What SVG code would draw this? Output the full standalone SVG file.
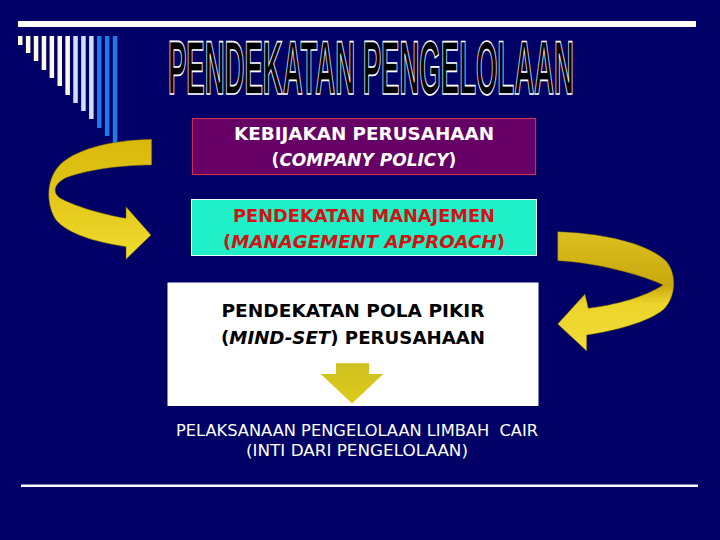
<svg xmlns="http://www.w3.org/2000/svg" width="720" height="540" viewBox="0 0 720 540">
<defs>
<linearGradient id="ribL" x1="0" y1="0" x2="0" y2="1">
<stop offset="0" stop-color="#d9b80c"/>
<stop offset="0.5" stop-color="#e3c81a"/>
<stop offset="1" stop-color="#f0dc30"/>
</linearGradient>
<linearGradient id="ribR" x1="0" y1="0" x2="0" y2="1">
<stop offset="0" stop-color="#dcc020"/>
<stop offset="0.45" stop-color="#c9a80c"/>
<stop offset="0.6" stop-color="#ecd42a"/>
<stop offset="1" stop-color="#f2de36"/>
</linearGradient>
<linearGradient id="down" x1="0" y1="0" x2="0" y2="1">
<stop offset="0" stop-color="#cfc020"/>
<stop offset="1" stop-color="#dccb18"/>
</linearGradient>
</defs>
<style>
.bold{font-family:"DejaVu Sans","Liberation Sans",sans-serif;font-weight:bold;font-size:17px;text-anchor:middle}
.ital{font-style:italic}
.plain{font-family:"DejaVu Sans","Liberation Sans",sans-serif;font-size:15px;fill:#ffffff;text-anchor:middle;white-space:pre}
.cream{fill:#fffbe0}
.lblue{fill:#cfe0fb}
.blue{fill:#1f7ae8}
.rib{stroke:#6a5800;stroke-width:0.8;stroke-opacity:0.6}
</style>
<rect width="720" height="540" fill="#000066"/>
<g id="decor">
<rect x="18" y="21" width="678" height="6" fill="#ffffff"/>
<rect x="21" y="484.5" width="677" height="2.5" fill="#ffffff"/>
<rect class="cream" x="18" y="36" width="4.5" height="9"/>
<rect class="cream" x="25.9" y="36" width="4.5" height="17"/>
<rect class="cream" x="33.8" y="36" width="4.5" height="25"/>
<rect class="cream" x="41.7" y="36" width="4.5" height="34"/>
<rect class="cream" x="49.6" y="36" width="4.5" height="42"/>
<rect class="cream" x="57.5" y="36" width="4.5" height="50"/>
<rect class="cream" x="65.4" y="36" width="4.5" height="59"/>
<rect class="lblue" x="73.3" y="36" width="4.5" height="67"/>
<rect class="lblue" x="81.2" y="36" width="4.5" height="75"/>
<rect class="lblue" x="89.1" y="36" width="4.5" height="83"/>
<rect class="blue" x="97" y="36" width="4.5" height="92"/>
<rect class="blue" x="104.9" y="36" width="4.5" height="100"/>
<rect class="blue" x="112.8" y="36" width="4.5" height="108"/>
</g>
<g id="title">
<text transform="translate(168,94) scale(0.612,1.68)" x="0" y="0" font-family="Liberation Sans, Arial, sans-serif" font-weight="bold" font-size="45" fill="#000000" stroke="#ffffff" stroke-width="1.3" vector-effect="non-scaling-stroke">PENDEKATAN PENGELOLAAN</text>
</g>
<g id="connectors">
<path class="rib" fill="url(#ribL)" d="M151.7,139.3 C110,140 72,150 58,167 C46,181 46,205 56,220 C68,234 95,242 126,246.7 L126,259.3 L151,235 L126,206.7 L126,218.3 C100,214 72,205 60,198 C50,191 57,181 68,177 C90,169 125,165 151.7,165 Z"/>
<path class="rib" fill="url(#ribR)" d="M557.7,231.7 C600,233 645,242 665,260 C678,273 676,298 663,310 C648,322 615,331 586.7,335 L586.7,351 L557.7,324 L585,294 L588.3,308.3 C615,305 645,297 663,285 C645,276 600,263 557.7,260.7 Z"/>
</g>
<g id="node-policy">
<rect x="192.5" y="118.5" width="343" height="56" fill="#660066" stroke="#c8304e" stroke-width="1.2"/>
<text class="bold" x="364" y="140" fill="#ffffff" textLength="260" lengthAdjust="spacingAndGlyphs">KEBIJAKAN PERUSAHAAN</text>
<text class="bold" x="364" y="166" fill="#ffffff">(<tspan class="ital">COMPANY POLICY</tspan>)</text>
</g>
<g id="node-management">
<rect x="191.5" y="199.5" width="345" height="56" fill="#20f0c8" stroke="#e8ffff" stroke-width="1"/>
<text class="bold" x="364" y="222.3" fill="#d01414" textLength="262" lengthAdjust="spacingAndGlyphs">PENDEKATAN MANAJEMEN</text>
<text class="bold" x="364" y="248.3" fill="#d01414" textLength="282" lengthAdjust="spacingAndGlyphs">(<tspan class="ital">MANAGEMENT APPROACH</tspan>)</text>
</g>
<g id="node-mindset">
<rect x="167.5" y="282.5" width="371" height="123.5" fill="#ffffff"/>
<text class="bold" x="353" y="316.7" fill="#000000" textLength="263" lengthAdjust="spacingAndGlyphs">PENDEKATAN POLA PIKIR</text>
<text class="bold" x="353" y="344" fill="#000000" textLength="264" lengthAdjust="spacingAndGlyphs">(<tspan class="ital">MIND-SET</tspan>) PERUSAHAAN</text>
<polygon fill="url(#down)" points="336,363.3 369,363.3 369,374 383.3,374 352,403.5 320.7,374 336,374"/>
</g>
<g id="node-implementation">
<text class="plain" x="357" y="436" textLength="362" lengthAdjust="spacingAndGlyphs" xml:space="preserve">PELAKSANAAN PENGELOLAAN LIMBAH  CAIR</text>
<text class="plain" x="357" y="455.7" textLength="222" lengthAdjust="spacingAndGlyphs">(INTI DARI PENGELOLAAN)</text>
</g>
</svg>
